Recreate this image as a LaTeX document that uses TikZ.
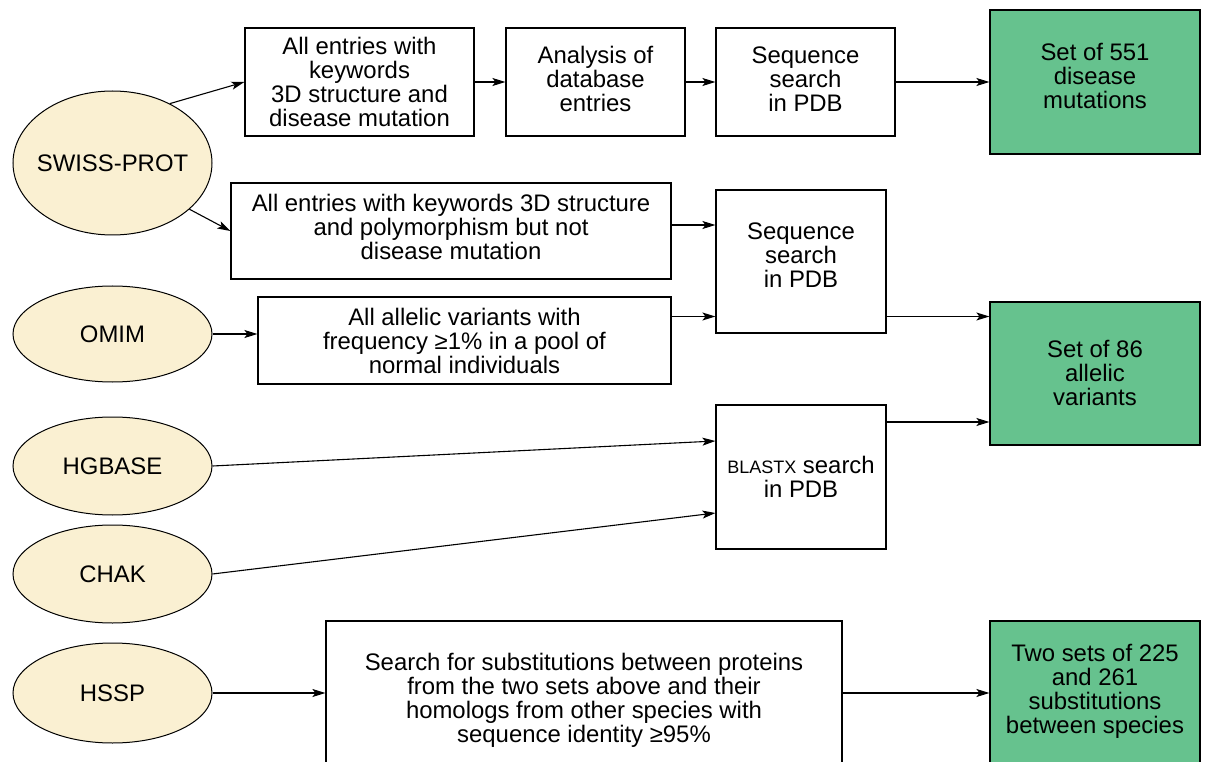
\documentclass[tikz,border=0pt]{standalone}
\usepackage{fontspec}
\setmainfont{Liberation Sans}
\usetikzlibrary{shapes.geometric,arrows.meta}
\definecolor{eyel}{HTML}{FAF0D2}
\definecolor{grn}{HTML}{66C28E}
\newcommand{\dnby}[1]{\rule[-#1]{0pt}{#1}}
\newcommand{\upby}[1]{\rule{0pt}{#1}}
\begin{document}
\begin{tikzpicture}[x=1pt,y=-1pt,
  font=\fontsize{23.9}{24}\selectfont,
  box/.style={draw, rectangle, line width=1.2pt, align=center, inner sep=0pt},
  res/.style={box, fill=grn},
  src/.style={ellipse, draw, fill=eyel, line width=1pt, inner sep=0pt, minimum width=199pt},
  arr/.style={-{Stealth[length=13pt,width=8pt,inset=3pt]}, line width=1.1pt}]
\clip (0,0) rectangle (1208,762);
\fill[white] (0,0) rectangle (1208,762);
% sources
\node[src, minimum height=144pt] (sw) at (112.5,163) {\makebox[0pt]{SWISS-PROT}};
\node[src, minimum height=96pt]  (om) at (112.5,334) {\makebox[0pt]{OMIM}};
\node[src, minimum height=98pt]  (hg) at (112.5,466) {\makebox[0pt]{HGBASE}};
\node[src, minimum height=98pt]  (ch) at (112.5,574) {\makebox[0pt]{CHAK}};
\node[src, minimum height=100pt] (hs) at (112.5,693) {\makebox[0pt]{HSSP}};
% boxes
\node[box, minimum width=229pt, minimum height=108pt] (a1) at (359.5,82) {All entries with\\keywords\\3D structure and\\disease mutation};
\node[box, minimum width=179pt, minimum height=108pt] (a2) at (595.5,82) {Analysis of\\database\\entries\dnby{6pt}};
\node[box, minimum width=179pt, minimum height=108pt] (a3) at (805.5,82) {Sequence\\search\\in PDB\dnby{6pt}};
\node[res, minimum width=210pt, minimum height=144pt] (g1) at (1095,82) {Set of 551\\disease\\mutations\dnby{12pt}};
\node[box, minimum width=440pt, minimum height=96pt] (b1) at (451,231) {All entries with keywords 3D structure\\and polymorphism but not\\disease mutation\dnby{8pt}};
\node[box, minimum width=170pt, minimum height=143pt] (b2) at (801,261.5) {Sequence\\search\\in PDB\dnby{12pt}};
\node[box, minimum width=413pt, minimum height=87pt] (b3) at (464.5,340.5) {All allelic variants with\\frequency ≥1\% in a pool of\\normal individuals};
\node[res, minimum width=210pt, minimum height=143pt] (g2) at (1095,373.5) {Set of 86\\allelic\\variants\dnby{2pt}};
\node[box, minimum width=170pt, minimum height=144pt] (c1) at (801,477) {{\fontsize{18}{24}\selectfont BLASTX} search\\in PDB};
\node[box, minimum width=516pt, minimum height=148pt] (d1) at (584,695) {\upby{27pt}Search for substitutions between proteins\\from the two sets above and their\\homologs from other species with\\sequence identity ≥95\%};
\node[res, minimum width=210pt, minimum height=144pt] (g3) at (1095,693) {Two sets of 225\\and 261\\substitutions\\between species\dnby{9pt}};
% connectors
\draw[arr] (sw.46) -- (a1.west);
\draw[arr] (sw.-31) -- (b1.west);
\draw[arr] (a1.east) -- (a2.west);
\draw[arr] (a2.east) -- (a3.west);
\draw[arr] (a3.east) -- (g1.west);
\draw[arr] ([yshift=6pt]b1.east) -- ([yshift=6pt]b1.east -| b2.west);
\draw[arr] ([yshift=24pt]b3.east) -- ([yshift=24pt]b3.east -| b2.west);
\draw[arr] (om.east) -- (om.east -| b3.west);
\draw[arr] ([yshift=-55pt]b2.east) -- ([yshift=-55pt]b2.east -| g2.west);
\draw[arr] ([yshift=55pt]c1.east) -- ([yshift=55pt]c1.east -| g2.west);
\draw[arr] (hg.east) -- ([yshift=36pt]c1.west);
\draw[arr] (ch.east) -- ([yshift=-36pt]c1.west);
\draw[arr] (hs.east) -- (hs.east -| d1.west);
\draw[arr] (d1.east |- hs.east) -- (g3.west |- hs.east);
\end{tikzpicture}
\end{document}
